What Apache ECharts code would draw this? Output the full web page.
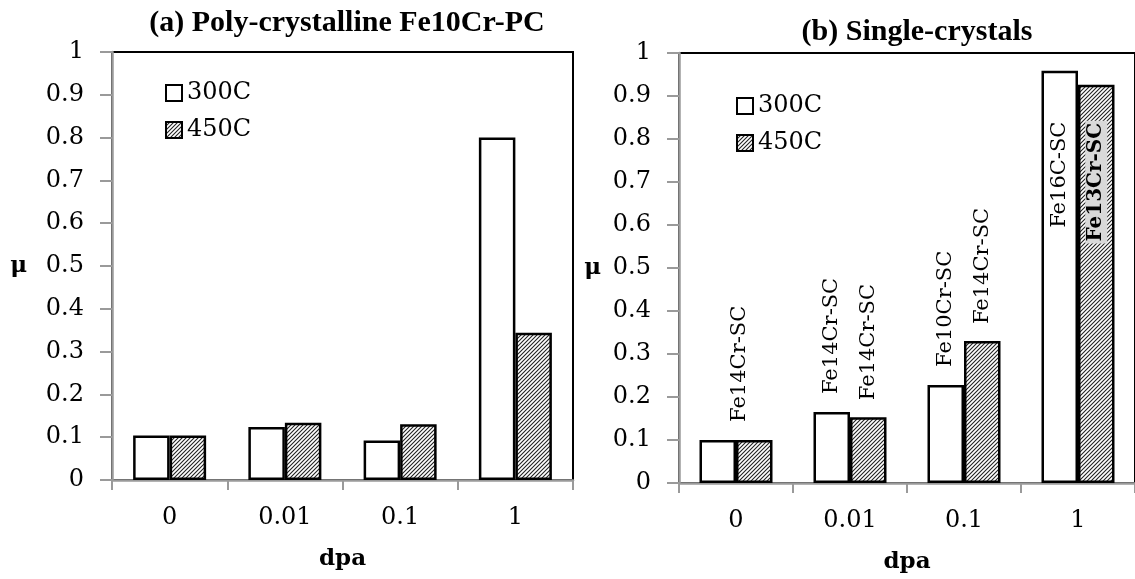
<!DOCTYPE html>
<html>
<head>
<meta charset="utf-8">
<script src="https://cdn.jsdelivr.net/npm/echarts@6/dist/echarts.min.js"></script>
<style>
  html, body { margin: 0; padding: 0; background: #fff; }
  #chart { width: 1135px; height: 579px; }
</style>
</head>
<body>
<div id="chart"></div>
<script>
// dpa categories
const dpa = ['0', '0.01', '0.1', '1'];
const legendNames = ['300C', '450C'];
// (a) poly-crystalline Fe10Cr-PC
const polyMu300 = [0.104, 0.124, 0.092, 0.800];
const polyMu450 = [0.104, 0.134, 0.130, 0.344];
// (b) single crystals
const singleMu300 = [0.100, 0.165, 0.228, 0.959];
const singleMu450 = [0.100, 0.153, 0.330, 0.926];
const singleNames300 = ['Fe14Cr-SC', 'Fe14Cr-SC', 'Fe10Cr-SC', 'Fe16C-SC'];
const singleNames450 = ['', 'Fe14Cr-SC', 'Fe14Cr-SC', 'Fe13Cr-SC'];

const serif = 'DejaVu Serif';
const gray = '#9a9a9a';

// 斜线填充
function makeHatch() {
  const c = document.createElement('canvas');
  c.width = 4; c.height = 4;
  const ctx = c.getContext('2d');
  ctx.fillStyle = '#fff';
  ctx.fillRect(0, 0, 4, 4);
  ctx.strokeStyle = '#222';
  ctx.lineWidth = 1.1;
  ctx.beginPath();
  ctx.moveTo(-1, 5); ctx.lineTo(5, -1);
  ctx.moveTo(-1, 1); ctx.lineTo(1, -1);
  ctx.moveTo(3, 5); ctx.lineTo(5, 3);
  ctx.stroke();
  return { image: c, repeat: 'repeat' };
}
const hatch = makeHatch();

const chart = echarts.init(document.getElementById('chart'));

function xAxisOf(gridIndex) {
  return {
    type: 'category', gridIndex: gridIndex, data: dpa,
    name: 'dpa', nameLocation: 'middle', nameGap: 68,
    nameTextStyle: { fontFamily: serif, fontWeight: 'bold', fontSize: 23, color: '#000' },
    axisLine: { lineStyle: { color: gray, width: 2.5 } },
    axisTick: { show: true, length: 10, lineStyle: { color: gray, width: 2 } },
    axisLabel: { fontFamily: serif, fontSize: 24, color: '#000', margin: 26 }
  };
}
function yAxisOf(gridIndex, gap) {
  return {
    type: 'value', gridIndex: gridIndex, min: 0, max: 1, interval: 0.1,
    name: 'μ', nameLocation: 'middle', nameGap: gap, nameRotate: 0,
    nameTextStyle: { fontFamily: serif, fontWeight: 'bold', fontSize: 23, color: '#000' },
    axisLine: { show: true, lineStyle: { color: gray, width: 2.5 } },
    axisTick: { show: true, length: 12, lineStyle: { color: gray, width: 2 } },
    axisLabel: { fontFamily: serif, fontSize: 24, color: '#000', margin: 28,
      formatter: (v) => String(Math.round(v * 10) / 10) },
    splitLine: { show: false }
  };
}

const barStyle = { borderColor: '#000', borderWidth: 2.5 };
const labelFont = { fontFamily: serif, fontSize: 21, color: '#000' };

// 右图标签
const data300 = singleMu300.map((v, i) => {
  const item = { value: v, label: {} };
  if (i === 0) item.label = { offset: [0, 22] };
  if (i === 3) item.label = { position: 'insideTop', align: 'right', distance: 51 };
  return item;
});
const data450 = singleMu450.map((v, i) => {
  const item = { value: v, label: {} };
  if (i === 3) item.label = {
    position: 'insideTop', align: 'right', distance: 36,
    fontWeight: 'bold', fontSize: 20, backgroundColor: '#d9d9d9', padding: [1, 2]
  };
  return item;
});

const option = {
  animation: false,
  backgroundColor: '#fff',
  title: [
    { text: '(a) Poly-crystalline Fe10Cr-PC', left: 342, top: 3, textAlign: 'center',
      textStyle: { fontFamily: 'Liberation Serif', fontWeight: 'bold', fontSize: 30, color: '#000' } },
    { text: '(b) Single-crystals', left: 912, top: 12, textAlign: 'center',
      textStyle: { fontFamily: 'Liberation Serif', fontWeight: 'bold', fontSize: 30, color: '#000' } }
  ],
  legend: [
    { data: legendNames, orient: 'vertical', left: 160, top: 76, itemWidth: 16, itemHeight: 16,
      itemGap: 13, icon: 'rect', textStyle: { fontFamily: serif, fontSize: 24, color: '#000' } },
    { data: legendNames, orient: 'vertical', left: 731, top: 89, itemWidth: 16, itemHeight: 16,
      itemGap: 13, icon: 'rect', textStyle: { fontFamily: serif, fontSize: 24, color: '#000' } }
  ],
  grid: [
    { left: 112, top: 52, width: 461, height: 428, show: true, borderColor: '#000', borderWidth: 2 },
    { left: 679, top: 53, width: 461, height: 430, show: true, borderColor: '#000', borderWidth: 2 }
  ],
  xAxis: [xAxisOf(0), xAxisOf(1)],
  yAxis: [yAxisOf(0, 85), yAxisOf(1, 78)],
  series: [
    { name: '300C', type: 'bar', xAxisIndex: 0, yAxisIndex: 0, data: polyMu300,
      barWidth: 36.5, barGap: '0%', itemStyle: Object.assign({ color: '#fff' }, barStyle) },
    { name: '450C', type: 'bar', xAxisIndex: 0, yAxisIndex: 0, data: polyMu450,
      barWidth: 36.5, barGap: '0%', itemStyle: Object.assign({ color: hatch }, barStyle) },
    { name: '300C', type: 'bar', xAxisIndex: 1, yAxisIndex: 1, data: data300,
      barWidth: 36.5, barGap: '0%', itemStyle: Object.assign({ color: '#fff' }, barStyle),
      label: Object.assign({ show: true, position: 'top', rotate: 90, align: 'left',
        verticalAlign: 'middle', distance: 18,
        formatter: (p) => singleNames300[p.dataIndex] }, labelFont) },
    { name: '450C', type: 'bar', xAxisIndex: 1, yAxisIndex: 1, data: data450,
      barWidth: 36.5, barGap: '0%', itemStyle: Object.assign({ color: hatch }, barStyle),
      label: Object.assign({ show: true, position: 'top', rotate: 90, align: 'left',
        verticalAlign: 'middle', distance: 17,
        formatter: (p) => singleNames450[p.dataIndex] }, labelFont) }
  ]
};
chart.setOption(option);
</script>
</body>
</html>
